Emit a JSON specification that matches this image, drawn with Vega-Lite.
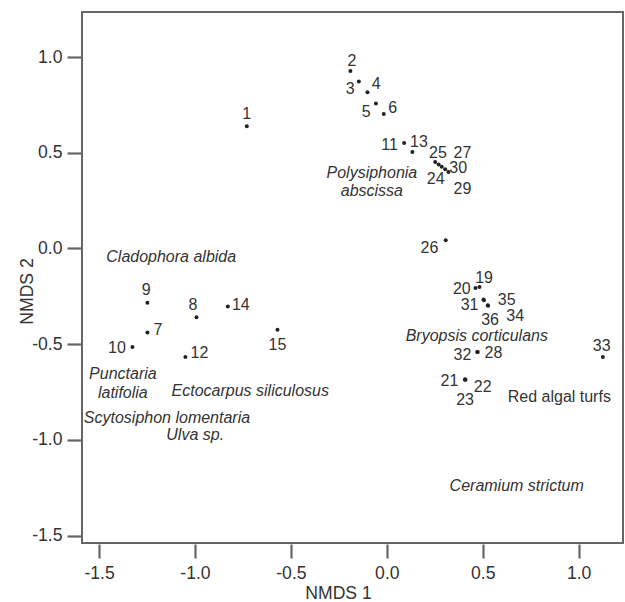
{
  "$schema": "https://vega.github.io/schema/vega-lite/v6.json",
  "autosize": {"type": "none"},
  "padding": {"left": 82, "top": 12, "right": 2, "bottom": 59},
  "width": 541,
  "height": 531,
  "background": "white",
  "config": {
    "font": "Liberation Sans",
    "view": {"stroke": "#666666", "strokeWidth": 2},
    "axis": {
      "grid": false,
      "domain": false,
      "tickColor": "#666666",
      "tickWidth": 2.2,
      "labelFont": "Liberation Sans",
      "labelFontSize": 17.6,
      "labelColor": "#333333",
      "titleFont": "Liberation Sans",
      "titleFontSize": 17.6,
      "titleFontWeight": "normal",
      "titleColor": "#333333"
    }
  },
  "datasets": {
    "sites": [
      {"site": "1", "x": -0.730, "y": 0.638, "lx": -0.730, "ly": 0.704},
      {"site": "2", "x": -0.190, "y": 0.927, "lx": -0.182, "ly": 0.979},
      {"site": "3", "x": -0.146, "y": 0.872, "lx": -0.191, "ly": 0.835},
      {"site": "4", "x": -0.101, "y": 0.816, "lx": -0.056, "ly": 0.857},
      {"site": "5", "x": -0.057, "y": 0.757, "lx": -0.108, "ly": 0.711},
      {"site": "6", "x": -0.016, "y": 0.702, "lx": 0.031, "ly": 0.734},
      {"site": "7", "x": -1.248, "y": -0.439, "lx": -1.193, "ly": -0.427},
      {"site": "8", "x": -0.992, "y": -0.359, "lx": -1.011, "ly": -0.293},
      {"site": "9", "x": -1.248, "y": -0.283, "lx": -1.254, "ly": -0.218},
      {"site": "10", "x": -1.326, "y": -0.514, "lx": -1.407, "ly": -0.518},
      {"site": "11", "x": 0.090, "y": 0.551, "lx": 0.014, "ly": 0.539},
      {"site": "12", "x": -1.050, "y": -0.567, "lx": -0.977, "ly": -0.546},
      {"site": "13", "x": 0.133, "y": 0.504, "lx": 0.167, "ly": 0.556},
      {"site": "14", "x": -0.829, "y": -0.303, "lx": -0.761, "ly": -0.297},
      {"site": "15", "x": -0.570, "y": -0.424, "lx": -0.570, "ly": -0.502},
      {"site": "19", "x": 0.483, "y": -0.201, "lx": 0.507, "ly": -0.152},
      {"site": "20", "x": 0.462, "y": -0.206, "lx": 0.391, "ly": -0.209},
      {"site": "21", "x": 0.408, "y": -0.683, "lx": 0.326, "ly": -0.690},
      {"site": "22", "x": 0.410, "y": -0.685, "lx": 0.500, "ly": -0.723},
      {"site": "23", "x": 0.407, "y": -0.686, "lx": 0.408, "ly": -0.789},
      {"site": "24", "x": 0.270, "y": 0.438, "lx": 0.255, "ly": 0.365},
      {"site": "25", "x": 0.252, "y": 0.452, "lx": 0.266, "ly": 0.499},
      {"site": "26", "x": 0.307, "y": 0.043, "lx": 0.222, "ly": 0.000},
      {"site": "27", "x": 0.286, "y": 0.427, "lx": 0.394, "ly": 0.499},
      {"site": "28", "x": 0.474, "y": -0.541, "lx": 0.556, "ly": -0.546},
      {"site": "29", "x": 0.321, "y": 0.399, "lx": 0.394, "ly": 0.313},
      {"site": "30", "x": 0.304, "y": 0.414, "lx": 0.372, "ly": 0.418},
      {"site": "31", "x": 0.504, "y": -0.267, "lx": 0.431, "ly": -0.297},
      {"site": "32", "x": 0.471, "y": -0.540, "lx": 0.394, "ly": -0.554},
      {"site": "33", "x": 1.126, "y": -0.567, "lx": 1.120, "ly": -0.509},
      {"site": "34", "x": 0.528, "y": -0.299, "lx": 0.669, "ly": -0.352},
      {"site": "35", "x": 0.506, "y": -0.270, "lx": 0.625, "ly": -0.267},
      {"site": "36", "x": 0.526, "y": -0.297, "lx": 0.538, "ly": -0.374}
    ],
    "species": [
      {"name": "Polysiphonia", "x": -0.078, "y": 0.396},
      {"name": "abscissa", "x": -0.078, "y": 0.299},
      {"name": "Cladophora albida", "x": -1.124, "y": -0.044},
      {"name": "Bryopsis corticulans", "x": 0.469, "y": -0.455},
      {"name": "Punctaria", "x": -1.376, "y": -0.657},
      {"name": "latifolia", "x": -1.376, "y": -0.755},
      {"name": "Ectocarpus siliculosus", "x": -0.712, "y": -0.746},
      {"name": "Scytosiphon lomentaria", "x": -1.146, "y": -0.885},
      {"name": "Ulva sp.", "x": -0.999, "y": -0.972},
      {"name": "Ceramium strictum", "x": 0.677, "y": -1.240}
    ],
    "groups": [
      {"name": "Red algal turfs", "x": 0.899, "y": -0.775}
    ]
  },
  "layer": [
    {
      "data": {"name": "sites"},
      "mark": {"type": "point", "filled": true, "color": "#222222", "size": 16, "opacity": 1},
      "encoding": {
        "x": {
          "field": "x", "type": "quantitative", "title": "NMDS 1",
          "scale": {"domain": [-1.589, 1.231], "nice": false, "zero": false},
          "axis": {"values": [-1.5, -1.0, -0.5, 0.0, 0.5, 1.0], "labelExpr": "(datum.value < 0 ? '-' : '') + format(abs(datum.value), '.1f')", "offset": 1, "tickSize": 14, "labelPadding": 6, "titleBaseline": "alphabetic", "titleY": 54, "titleX": 256}
        },
        "y": {
          "field": "y", "type": "quantitative", "title": "NMDS 2",
          "scale": {"domain": [-1.538, 1.235], "nice": false, "zero": false},
          "axis": {"values": [-1.5, -1.0, -0.5, 0.0, 0.5, 1.0], "labelExpr": "(datum.value < 0 ? '-' : '') + format(abs(datum.value), '.1f')", "tickSize": 15, "labelPadding": 5, "titleBaseline": "alphabetic", "titleX": -50, "titleY": 279}
        }
      }
    },
    {
      "data": {"name": "sites"},
      "mark": {"type": "text", "fontSize": 16, "color": "#333333", "align": "center", "baseline": "middle"},
      "encoding": {
        "x": {"field": "lx", "type": "quantitative"},
        "y": {"field": "ly", "type": "quantitative"},
        "text": {"field": "site"}
      }
    },
    {
      "data": {"name": "species"},
      "mark": {"type": "text", "fontSize": 16, "fontStyle": "italic", "color": "#333333", "align": "center", "baseline": "middle"},
      "encoding": {
        "x": {"field": "x", "type": "quantitative"},
        "y": {"field": "y", "type": "quantitative"},
        "text": {"field": "name"}
      }
    },
    {
      "data": {"name": "groups"},
      "mark": {"type": "text", "fontSize": 16, "color": "#333333", "align": "center", "baseline": "middle"},
      "encoding": {
        "x": {"field": "x", "type": "quantitative"},
        "y": {"field": "y", "type": "quantitative"},
        "text": {"field": "name"}
      }
    }
  ]
}
